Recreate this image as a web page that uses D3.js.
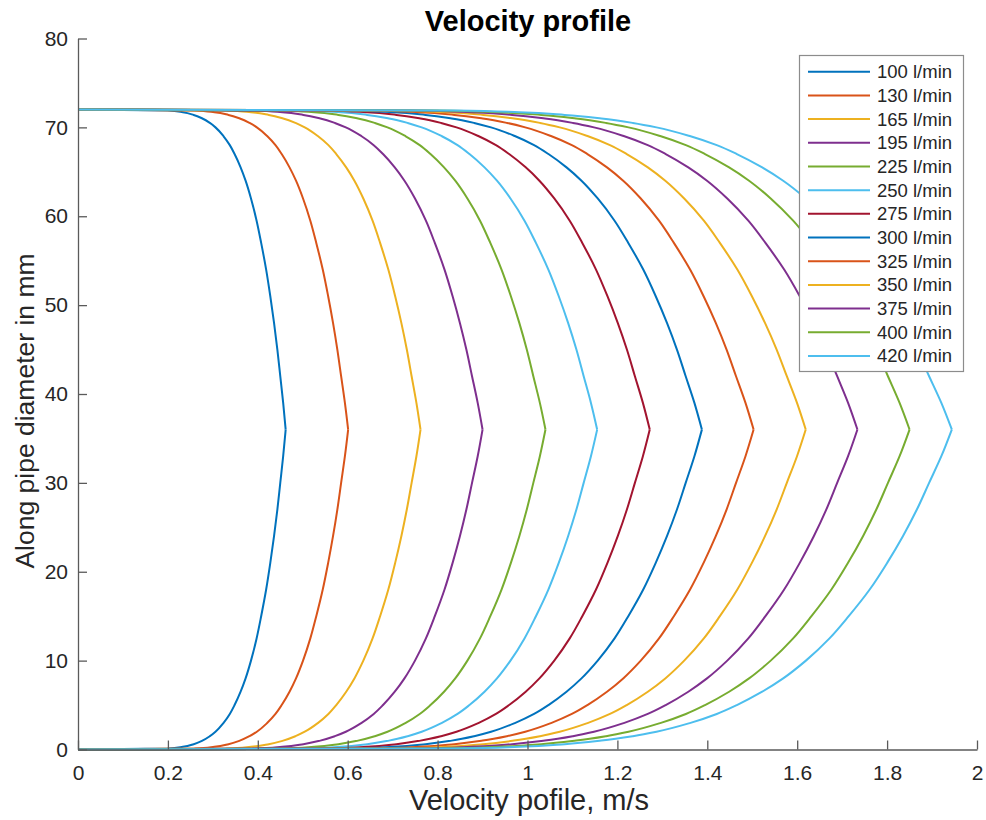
<!DOCTYPE html>
<html>
<head>
<meta charset="utf-8">
<script src="https://cdn.jsdelivr.net/npm/d3@7"></script>
<style>
  html, body { margin: 0; padding: 0; background: #ffffff; }
  svg { display: block; font-family: "Liberation Sans", Arial, Helvetica, sans-serif; }
</style>
</head>
<body>
<svg id="chart" width="986" height="820"></svg>
<script>
// Flow rates and their legend labels
const seriesLabels = ["100 l/min", "130 l/min", "165 l/min", "195 l/min", "225 l/min", "250 l/min",
  "275 l/min", "300 l/min", "325 l/min", "350 l/min", "375 l/min", "400 l/min", "420 l/min"];

// Centreline (peak) velocity of each flow rate, m/s
const peakVelocity = [0.462, 0.601, 0.762, 0.900, 1.040, 1.155, 1.272, 1.388, 1.503, 1.619, 1.734, 1.850, 1.944];

// Position across the pipe (mm), wall to wall
const profilePosition = [0, 0.1, 0.3, 0.6, 1, 1.5, 2, 3, 4, 5, 6.5, 8, 10, 12.5, 15, 18, 21, 24, 27, 30, 33, 36,
  39, 42, 45, 48, 51, 54, 57, 59.5, 62, 64, 65.5, 67, 68, 69, 70, 70.5, 71, 71.4, 71.7, 71.9, 72];

// Local velocity as a share of the centreline velocity at each position
const profileShare = [0, 0.431, 0.505, 0.557, 0.599, 0.635, 0.662, 0.701, 0.731, 0.754, 0.783, 0.807, 0.833,
  0.860, 0.882, 0.906, 0.926, 0.944, 0.960, 0.974, 0.988, 1,
  0.988, 0.974, 0.960, 0.944, 0.926, 0.906, 0.882, 0.860, 0.833, 0.807, 0.783, 0.754, 0.731, 0.701,
  0.662, 0.635, 0.599, 0.557, 0.505, 0.431, 0];

// Index of the pipe centre in the position list
const centreIndex = 21;

const xTicks = [0, 0.2, 0.4, 0.6, 0.8, 1, 1.2, 1.4, 1.6, 1.8, 2];
const yTicks = [0, 10, 20, 30, 40, 50, 60, 70, 80];

const seriesColors = ["#0072BD", "#D95319", "#EDB120", "#7E2F8E", "#77AC30", "#4DBEEE", "#A2142F",
  "#0072BD", "#D95319", "#EDB120", "#7E2F8E", "#77AC30", "#4DBEEE"];

const svg = d3.select("#chart");
const plot = { left: 78, right: 977, top: 38.5, bottom: 749.5 };

const x = d3.scaleLinear().domain([0, 2]).range([plot.left, plot.right]);
const y = d3.scaleLinear().domain([0, 80]).range([plot.bottom, plot.top]);

const axisColor = "#5a5a5a";
const textColor = "#262626";

// Profile curves: each half (wall to centre) is drawn separately so the centre stays a sharp point
const line = d3.line()
  .x(d => x(d.v))
  .y(d => y(d.p))
  .curve(d3.curveMonotoneY);

const curves = svg.append("g").attr("fill", "none").attr("stroke-width", 2);
peakVelocity.forEach((vmax, i) => {
  const pts = profilePosition.map((p, k) => ({ p, v: vmax * profileShare[k] }));
  const halves = [pts.slice(0, centreIndex + 1), pts.slice(centreIndex)];
  halves.forEach(h => {
    curves.append("path")
      .attr("d", line(h))
      .attr("stroke", seriesColors[i])
      .attr("stroke-linejoin", "round");
  });
});

// Axes with inward ticks
const xAxis = d3.axisBottom(x).tickValues(xTicks).tickSizeInner(-9).tickSizeOuter(0)
  .tickFormat(d3.format("~g")).tickPadding(16);
const yAxis = d3.axisLeft(y).tickValues(yTicks).tickSizeInner(-9).tickSizeOuter(0)
  .tickFormat(d3.format("~g")).tickPadding(10);

const gx = svg.append("g").attr("transform", `translate(0,${plot.bottom})`).call(xAxis);
const gy = svg.append("g").attr("transform", `translate(${plot.left},0)`).call(yAxis);

[gx, gy].forEach(g => {
  g.select(".domain").attr("stroke", axisColor).attr("stroke-width", 1.3);
  g.selectAll(".tick line").attr("stroke", axisColor).attr("stroke-width", 1.3);
  g.selectAll(".tick text").attr("fill", textColor).style("font-size", "21px")
    .style("font-family", "'Liberation Sans', Arial, sans-serif");
});

// Title and axis labels
svg.append("text")
  .attr("x", 528).attr("y", 31)
  .attr("text-anchor", "middle")
  .style("font-size", "29px").style("font-weight", "bold").attr("fill", "#000")
  .text("Velocity profile");

svg.append("text")
  .attr("x", 529).attr("y", 810)
  .attr("text-anchor", "middle")
  .style("font-size", "29px").attr("fill", textColor)
  .text("Velocity pofile, m/s");

svg.append("text")
  .attr("transform", `translate(34,${(plot.top + plot.bottom) / 2 + 17}) rotate(-90)`)
  .attr("text-anchor", "middle")
  .style("font-size", "26.5px").attr("fill", textColor)
  .text("Along pipe diameter in mm");

// Legend
const legend = svg.append("g");
legend.append("rect")
  .attr("x", 799.5).attr("y", 55.5).attr("width", 164).attr("height", 316)
  .attr("fill", "#ffffff").attr("stroke", "#8c8c8c").attr("stroke-width", 1.2);

const rowY = d3.scalePoint().domain(d3.range(seriesLabels.length)).range([71.7, 356]);
seriesLabels.forEach((label, i) => {
  const yy = rowY(i);
  legend.append("line")
    .attr("x1", 808).attr("x2", 870).attr("y1", yy).attr("y2", yy)
    .attr("stroke", seriesColors[i]).attr("stroke-width", 2);
  legend.append("text")
    .attr("x", 877).attr("y", yy).attr("dy", "0.35em")
    .style("font-size", "18.5px").attr("fill", textColor)
    .text(label);
});
</script>
</body>
</html>
